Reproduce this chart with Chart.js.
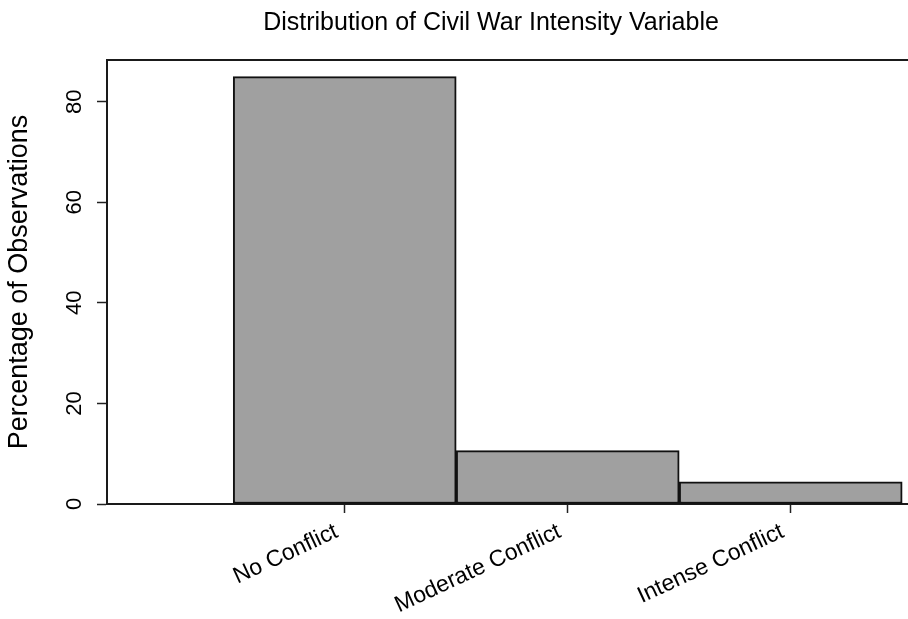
<!DOCTYPE html>
<html>
<head>
<meta charset="utf-8">
<script src="https://cdn.jsdelivr.net/npm/chart.js@4/dist/chart.umd.min.js"></script>
<style>
  html, body { margin: 0; padding: 0; background: #ffffff; }
  canvas { display: block; }
</style>
</head>
<body>
<canvas id="c" width="908" height="619"></canvas>
<script>
// ---- data ----
const categories = ['No Conflict', 'Moderate Conflict', 'Intense Conflict'];
const percentages = [85.0, 10.6, 4.4];
const positions = [1, 2, 3];
const yTickValues = [0, 20, 40, 60, 80];
const chartTitle = 'Distribution of Civil War Intensity Variable';
const yAxisTitle = 'Percentage of Observations';

const FONT = '"Liberation Sans", Arial, Helvetica, sans-serif';
const LINE = '#1a1a1a';

const extras = {
  id: 'rExtras',
  afterDraw(chart) {
    const ctx = chart.ctx;
    ctx.save();
    ctx.fillStyle = '#000';
    ctx.textAlign = 'center';
    ctx.textBaseline = 'middle';
    ctx.font = '25px ' + FONT;
    ctx.fillText(chartTitle, 491, 23);
    const ys = chart.scales.y;
    ctx.font = '22px ' + FONT;
    ys.ticks.forEach(t => {
      const py = ys.getPixelForValue(t.value);
      ctx.save();
      ctx.translate(ys.right - 32.5, py);
      ctx.rotate(-Math.PI / 2);
      ctx.fillText(String(t.value), 0, 0);
      ctx.restore();
    });
    ctx.restore();
  }
};

new Chart(document.getElementById('c'), {
  type: 'bar',
  data: {
    datasets: [{
      data: positions.map((p, i) => ({ x: p, y: percentages[i] })),
      backgroundColor: '#a0a0a0',
      borderColor: '#111111',
      borderWidth: 2,
      borderSkipped: false,
      barPercentage: 1,
      categoryPercentage: 1,
      xAxisID: 'x',
      yAxisID: 'y'
    }]
  },
  options: {
    responsive: false,
    animation: false,
    devicePixelRatio: 1,
    layout: { padding: { top: 60, left: 0, right: 0, bottom: 0 } },
    plugins: {
      legend: { display: false },
      tooltip: { enabled: false },
      title: { display: false }
    },
    scales: {
      x: {
        type: 'linear',
        position: 'bottom',
        min: -0.066,
        max: 3.526,
        offset: false,
        afterBuildTicks: s => { s.ticks = positions.map(v => ({ value: v })); },
        afterFit: s => { s.height = 115; },
        ticks: {
          autoSkip: false,
          minRotation: 25,
          maxRotation: 25,
          padding: 5,
          labelOffset: -8,
          color: '#000',
          font: { size: 23, family: FONT },
          callback: v => categories[v - 1]
        },
        grid: {
          display: true,
          drawOnChartArea: false,
          drawTicks: true,
          tickLength: 9,
          tickWidth: 1.5,
          tickColor: '#222',
          offset: false
        },
        border: { display: true, color: LINE, width: 2 }
      },
      x2: {
        type: 'linear',
        position: 'top',
        afterFit: s => { s.height = 0; },
        ticks: { display: false },
        grid: { display: true, drawOnChartArea: false, drawTicks: false },
        border: { display: true, color: LINE, width: 2 }
      },
      y: {
        type: 'linear',
        position: 'left',
        min: 0,
        max: 88.3,
        afterBuildTicks: s => { s.ticks = yTickValues.map(v => ({ value: v })); },
        afterFit: s => { s.width = 107; },
        ticks: { display: false },
        grid: {
          display: true,
          drawOnChartArea: false,
          drawTicks: true,
          tickLength: 10,
          tickWidth: 1.5,
          tickColor: '#222'
        },
        border: { display: true, color: LINE, width: 2 },
        title: {
          display: true,
          text: yAxisTitle,
          color: '#000',
          font: { size: 27, family: FONT },
          padding: { top: 3, bottom: 0 }
        }
      }
    }
  },
  plugins: [extras]
});
</script>
</body>
</html>
